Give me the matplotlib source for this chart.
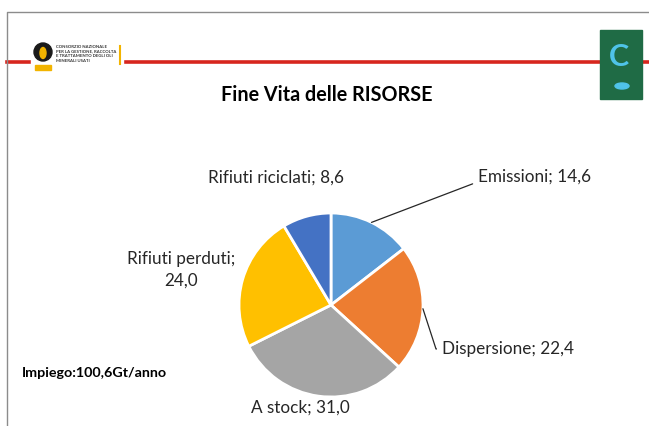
import numpy as np
import matplotlib
matplotlib.use("Agg")
import matplotlib.pyplot as plt
from matplotlib.patches import Rectangle, Circle, Ellipse

plt.rcParams["font.family"] = ["Lato", "DejaVu Sans"]

LABELS = ["Emissioni", "Dispersione", "A stock", "Rifiuti perduti", "Rifiuti riciclati"]
VALUES = [14.6, 22.4, 31.0, 24.0, 8.6]
COLORS = ["#5b9bd5", "#ed7d31", "#a5a5a5", "#ffc000", "#4472c4"]
TITLE = "Fine Vita delle RISORSE"
NOTE = "Impiego:100,6Gt/anno"

W, H = 649, 426
CX, CY, R = 331, H - 305, 92
TEXT = "#262626"


def fmt(v):
    return f"{v:.1f}".replace(".", ",")


fig = plt.figure(figsize=(W / 100, H / 100), dpi=100)
ax = fig.add_axes([0, 0, 1, 1])

wedges, _ = ax.pie(VALUES, colors=COLORS, startangle=90, counterclock=False,
                   center=(CX, CY), radius=R,
                   wedgeprops=dict(edgecolor="white", linewidth=2))
ax.set_xlim(0, W)
ax.set_ylim(0, H)
ax.set_aspect("equal")
ax.axis("off")

# slide frame, red rule and logos
ax.plot([7, 7, W], [0, H - 12, H - 12], color="#8c8c8c", lw=1)
ax.plot([7, W], [H - 62, H - 62], color="#d7261e", lw=2.6, zorder=1)
ax.add_patch(Rectangle((31, H - 72), 92, 34, color="white", zorder=2))
ax.add_patch(Circle((43, H - 52), 9, color="#1a1a1a", zorder=3))
ax.add_patch(Ellipse((43, H - 53), 6, 11, color="#f2b400", zorder=4))
ax.add_patch(Rectangle((35, H - 70), 16, 5, color="#f2b400", zorder=3))
ax.text(56, H - 54, "CONSORZIO NAZIONALE\nPER LA GESTIONE, RACCOLTA\nE TRATTAMENTO DEGLI OLI\nMINERALI USATI",
        fontsize=3.1, fontweight="bold", color="#333333", va="center", ha="left",
        linespacing=1.15, zorder=3)
ax.plot([120, 120], [H - 64, H - 46], color="#f2b400", lw=1.5, zorder=3)
ax.add_patch(Rectangle((600, H - 99), 42, 69, color="#1f6b45", zorder=2))
ax.text(619, H - 57, "C", fontsize=22, fontweight="bold", color="#4fc3e8",
        ha="center", va="center", zorder=3)
ax.add_patch(Ellipse((622, H - 86), 14, 6, color="#4fc3e8", zorder=3))

ax.text(327, H - 95, TITLE, fontsize=14.2, fontweight="bold", color="black",
        ha="center", va="center")
ax.text(22, H - 373, NOTE, fontsize=10.3, fontweight="bold", color="black",
        ha="left", va="center")

# labels
def edge(theta, scale=1.0):
    t = np.deg2rad(theta)
    return CX + R * scale * np.cos(t), CY + R * scale * np.sin(t)

angles = []
start = 90.0
total = sum(VALUES)
for v in VALUES:
    span = v / total * 360
    angles.append(start - span / 2)
    start -= span

fs = 12.3
ax.annotate(f"{LABELS[0]}; {fmt(VALUES[0])}", xy=edge(angles[0]),
            xytext=(478, H - 177), fontsize=fs, color=TEXT, ha="left", va="center",
            arrowprops=dict(arrowstyle="-", color="#262626", lw=0.9,
                            shrinkA=2, shrinkB=0, relpos=(0, 0.2)))
ax.annotate(f"{LABELS[1]}; {fmt(VALUES[1])}", xy=edge(angles[1]),
            xytext=(442, H - 349), fontsize=fs, color=TEXT, ha="left", va="center",
            arrowprops=dict(arrowstyle="-", color="#262626", lw=0.9,
                            shrinkA=2, shrinkB=0, relpos=(0, 0.5),
                            connectionstyle="angle,angleA=0,angleB=-72,rad=0"))
ax.text(300, H - 408, f"{LABELS[2]}; {fmt(VALUES[2])}", fontsize=fs, color=TEXT,
        ha="center", va="center")
ax.text(181, H - 270, f"{LABELS[3]};\n{fmt(VALUES[3])}", fontsize=fs, color=TEXT,
        ha="center", va="center", linespacing=1.4)
ax.text(276, H - 178, f"{LABELS[4]}; {fmt(VALUES[4])}", fontsize=fs, color=TEXT,
        ha="center", va="center")

fig.savefig("out.png", dpi=100, facecolor="white")
